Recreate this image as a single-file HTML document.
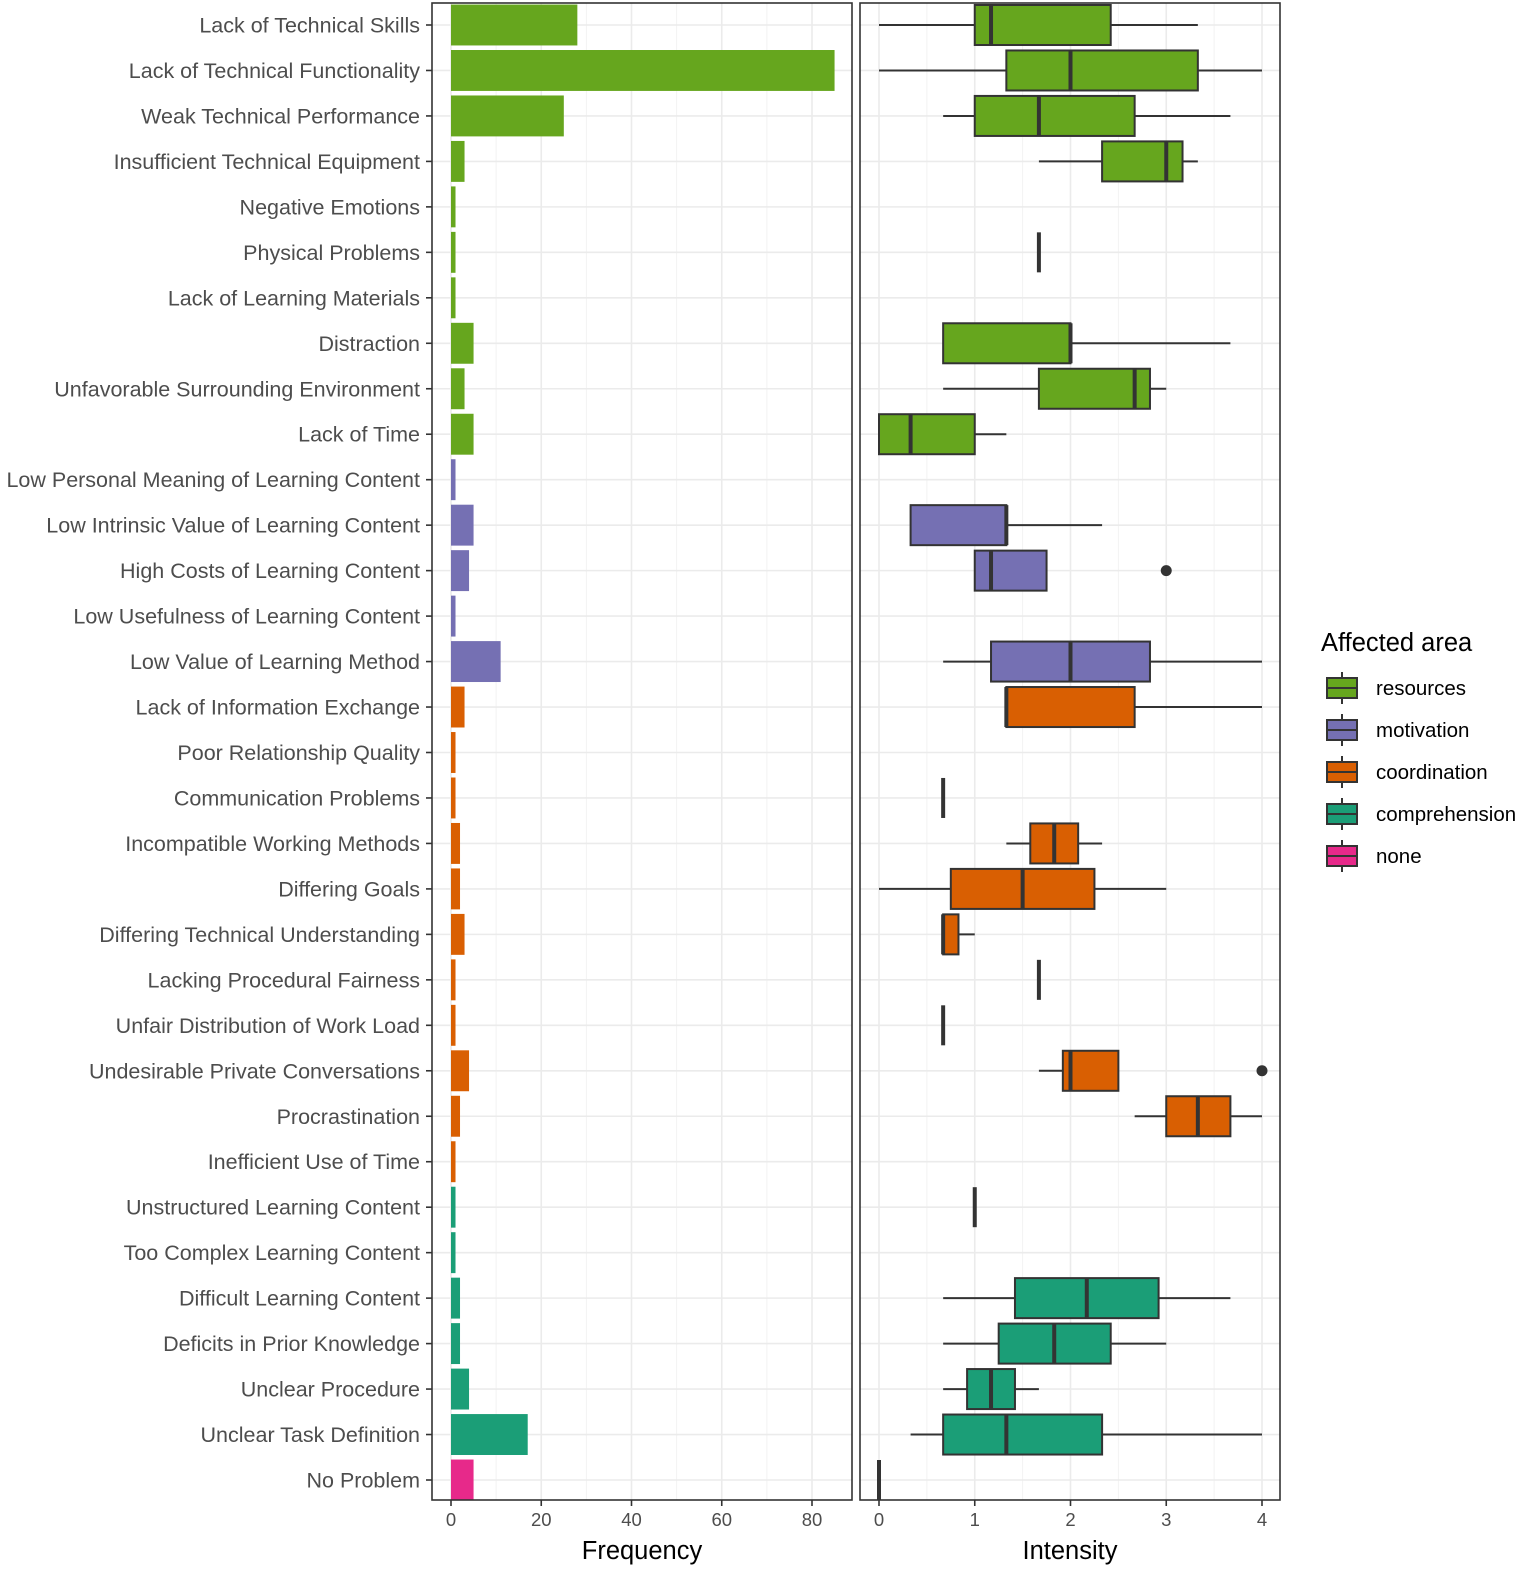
<!DOCTYPE html>
<html><head><meta charset="utf-8"><style>
body{margin:0;background:#fff;}
svg{display:block;font-family:"Liberation Sans",Arial,sans-serif;}
</style></head><body>
<svg id="chart" width="1535" height="1575" xmlns="http://www.w3.org/2000/svg"></svg>
<script>
const categories=["Lack of Technical Skills","Lack of Technical Functionality","Weak Technical Performance","Insufficient Technical Equipment","Negative Emotions","Physical Problems","Lack of Learning Materials","Distraction","Unfavorable Surrounding Environment","Lack of Time","Low Personal Meaning of Learning Content","Low Intrinsic Value of Learning Content","High Costs of Learning Content","Low Usefulness of Learning Content","Low Value of Learning Method","Lack of Information Exchange","Poor Relationship Quality","Communication Problems","Incompatible Working Methods","Differing Goals","Differing Technical Understanding","Lacking Procedural Fairness","Unfair Distribution of Work Load","Undesirable Private Conversations","Procrastination","Inefficient Use of Time","Unstructured Learning Content","Too Complex Learning Content","Difficult Learning Content","Deficits in Prior Knowledge","Unclear Procedure","Unclear Task Definition","No Problem"];
const areas=["resources","resources","resources","resources","resources","resources","resources","resources","resources","resources","motivation","motivation","motivation","motivation","motivation","coordination","coordination","coordination","coordination","coordination","coordination","coordination","coordination","coordination","coordination","coordination","comprehension","comprehension","comprehension","comprehension","comprehension","comprehension","none"];
const frequency=[28,85,25,3,1,1,1,5,3,5,1,5,4,1,11,3,1,1,2,2,3,1,1,4,2,1,1,1,2,2,4,17,5];
const whiskerLow=[0,0,0.67,1.67,null,1.67,null,0.67,0.67,0,null,0.33,1,null,0.67,1.33,null,0.67,1.33,0,0.67,1.67,0.67,1.67,2.67,null,1,null,0.67,0.67,0.67,0.33,0];
const q1=[1,1.33,1,2.33,null,1.67,null,0.67,1.67,0,null,0.33,1,null,1.17,1.33,null,0.67,1.58,0.75,0.67,1.67,0.67,1.92,3,null,1,null,1.42,1.25,0.92,0.67,0];
const median=[1.17,2,1.67,3,null,1.67,null,2,2.67,0.33,null,1.33,1.17,null,2,1.33,null,0.67,1.83,1.5,0.67,1.67,0.67,2,3.33,null,1,null,2.17,1.83,1.17,1.33,0];
const q3=[2.42,3.33,2.67,3.17,null,1.67,null,2,2.83,1,null,1.33,1.75,null,2.83,2.67,null,0.67,2.08,2.25,0.83,1.67,0.67,2.5,3.67,null,1,null,2.92,2.42,1.42,2.33,0];
const whiskerHigh=[3.33,4,3.67,3.33,null,1.67,null,3.67,3,1.33,null,2.33,1.75,null,4,4,null,0.67,2.33,3,1,1.67,0.67,2.5,4,null,1,null,3.67,3,1.67,4,0];
const outliers=[null,null,null,null,null,null,null,null,null,null,null,null,3,null,null,null,null,null,null,null,null,null,null,4,null,null,null,null,null,null,null,null,null];
const freqTicks=[0,20,40,60,80];
const intTicks=[0,1,2,3,4];
const areaNames=["resources","motivation","coordination","comprehension","none"];
const areaColors={resources:"#66a61e",motivation:"#7570b3",coordination:"#d95f02",comprehension:"#1b9e77",none:"#e7298a"};

const svg=document.getElementById('chart');
const NS="http://www.w3.org/2000/svg";
function el(tag,attrs,parent){const e=document.createElementNS(NS,tag);for(const k in attrs)e.setAttribute(k,attrs[k]);(parent||svg).appendChild(e);return e;}
const yTop=3,yBottom=1500;
const yRow=i=>25+i*(1480-25)/(categories.length-1);
const rowH=(1480-25)/(categories.length-1);
const L={x0:432,x1:852},R={x0:860,x1:1280};
const xF=v=>451+v*(812-451)/80;
const xI=v=>879+v*(1262-879)/4;

[L,R].forEach(p=>{el('rect',{x:p.x0,y:yTop,width:p.x1-p.x0,height:yBottom-yTop,fill:'#fff'});});
for(let v=10;v<=90;v+=20){const x=xF(v);if(x<L.x1)el('line',{x1:x,x2:x,y1:yTop,y2:yBottom,stroke:'#f2f2f2','stroke-width':1});}
freqTicks.forEach(v=>el('line',{x1:xF(v),x2:xF(v),y1:yTop,y2:yBottom,stroke:'#ebebeb','stroke-width':1.6}));
for(let v=0.5;v<4.2;v+=1)el('line',{x1:xI(v),x2:xI(v),y1:yTop,y2:yBottom,stroke:'#f2f2f2','stroke-width':1});
intTicks.forEach(v=>el('line',{x1:xI(v),x2:xI(v),y1:yTop,y2:yBottom,stroke:'#ebebeb','stroke-width':1.6}));
categories.forEach((c,i)=>{[L,R].forEach(p=>el('line',{x1:p.x0,x2:p.x1,y1:yRow(i),y2:yRow(i),stroke:'#ebebeb','stroke-width':1.6}));});

categories.forEach((c,i)=>{
  const b=el('rect',{x:xF(0),y:yRow(i)-rowH*0.45,width:xF(frequency[i])-xF(0),height:rowH*0.9,fill:areaColors[areas[i]]});
  
  
  const t=el('text',{x:420,y:yRow(i)+7.5,'text-anchor':'end','font-size':21.5,fill:'#4d4d4d'});
  t.textContent=c;
  
  
  el('line',{x1:426,x2:432,y1:yRow(i),y2:yRow(i),stroke:'#333','stroke-width':1.6});
});

categories.forEach((c,i)=>{
  if(median[i]===null)return;
  const y=yRow(i),h=rowH*0.88,g=el('g',{});
  
  
  el('line',{x1:xI(whiskerLow[i]),x2:xI(q1[i]),y1:y,y2:y,stroke:'#333','stroke-width':2},g);
  el('line',{x1:xI(q3[i]),x2:xI(whiskerHigh[i]),y1:y,y2:y,stroke:'#333','stroke-width':2},g);
  el('rect',{x:xI(q1[i]),y:y-h/2,width:Math.max(0,xI(q3[i])-xI(q1[i])),height:h,fill:areaColors[areas[i]],stroke:'#333','stroke-width':2},g);
  el('line',{x1:xI(median[i]),x2:xI(median[i]),y1:y-h/2,y2:y+h/2,stroke:'#333','stroke-width':4},g);
  if(outliers[i]!==null){const o=el('circle',{cx:xI(outliers[i]),cy:y,r:5.5,fill:'#333'},g);}
});

[L,R].forEach(p=>el('rect',{x:p.x0,y:yTop,width:p.x1-p.x0,height:yBottom-yTop,fill:'none',stroke:'#333','stroke-width':1.6}));

freqTicks.forEach(v=>{el('line',{x1:xF(v),x2:xF(v),y1:yBottom,y2:yBottom+6,stroke:'#333','stroke-width':1.6});
  const t=el('text',{x:xF(v),y:1526,'text-anchor':'middle','font-size':18.5,fill:'#4d4d4d'});t.textContent=v;
  });
intTicks.forEach(v=>{el('line',{x1:xI(v),x2:xI(v),y1:yBottom,y2:yBottom+6,stroke:'#333','stroke-width':1.6});
  const t=el('text',{x:xI(v),y:1526,'text-anchor':'middle','font-size':18.5,fill:'#4d4d4d'});t.textContent=v;
  });
let t=el('text',{x:642,y:1559,'text-anchor':'middle','font-size':25.5,fill:'#000'});t.textContent='Frequency';

t=el('text',{x:1070,y:1559,'text-anchor':'middle','font-size':25.5,fill:'#000'});t.textContent='Intensity';


t=el('text',{x:1321,y:651,'font-size':25.5,fill:'#000'});t.textContent='Affected area';

areaNames.forEach((a,k)=>{
  const y=688+k*42,g=el('g',{});
  
  
  el('line',{x1:1342,x2:1342,y1:y-16,y2:y+16,stroke:'#333','stroke-width':2},g);
  el('rect',{x:1327,y:y-10,width:30,height:20,fill:areaColors[a],stroke:'#333','stroke-width':2},g);
  el('line',{x1:1327,x2:1357,y1:y,y2:y,stroke:'#333','stroke-width':2},g);
  const tt=el('text',{x:1376,y:y+7,'font-size':20.5,fill:'#000'},g);tt.textContent=a;
});
</script>
</body></html>
